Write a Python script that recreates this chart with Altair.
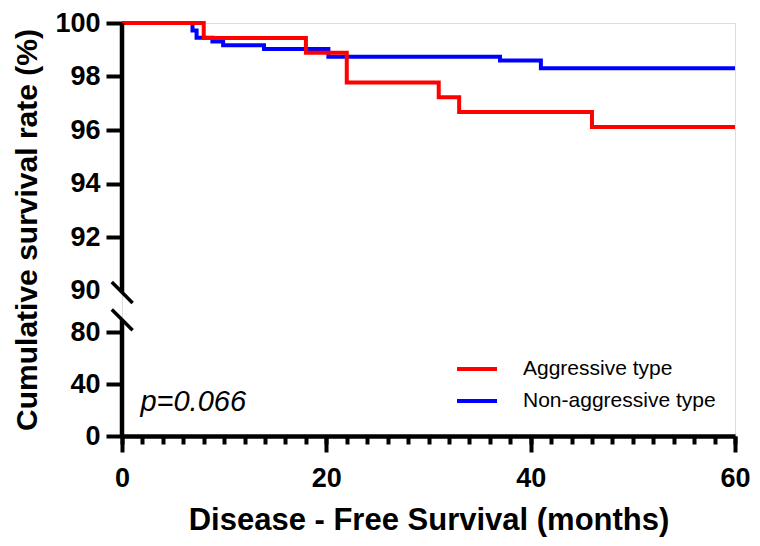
import altair as alt
import pandas as pd

# ---- data ----
series = ["Aggressive type", "Non-aggressive type"]
colors = ["#FF0000", "#0000FF"]

months_aggr = [0, 8, 18, 22, 31, 33, 46, 60]
surv_aggr = [100, 99.44, 98.89, 97.78, 97.22, 96.67, 96.11, 96.11]

months_non = [0, 6.9, 7.3, 8.85, 9.9, 13.9, 20.2, 37, 41, 60]
surv_non = [100, 99.72, 99.45, 99.31, 99.17, 99.03, 98.74, 98.6, 98.31, 98.31]

y_ticks = [0, 40, 80, 90, 92, 94, 96, 98, 100]
x_major = [0, 20, 40, 60]
x_minor = list(range(0, 61, 2))

p_text = ["p=0.066"]
p_pos_x = [1.8]
p_pos_y = [26]

# broken y axis: segments of the axis line and the two break slashes
axis_seg_lo = [89.6, 0]
axis_seg_hi = [100, 82.9]
slash_x1 = [-1.0, -1.0]
slash_x2 = [1.04, 1.04]
slash_y1 = [90.32, 85.45]
slash_y2 = [87.0, 80.5]

W, H = 613, 413
FONT = "Liberation Sans"

df_aggr = pd.DataFrame({"t": months_aggr, "s": surv_aggr, "g": series[0]})
df_non = pd.DataFrame({"t": months_non, "s": surv_non, "g": series[1]})
df_axis = pd.DataFrame({"x": [0, 0], "y": axis_seg_lo, "y2": axis_seg_hi})
df_slash = pd.DataFrame({"x": slash_x1, "x2": slash_x2, "y": slash_y1, "y2": slash_y2})
df_p = pd.DataFrame({"x": p_pos_x, "y": p_pos_y, "label": p_text})
df_minor = pd.DataFrame({"x": [0]})

x_scale = alt.Scale(domain=[0, 60], nice=False, zero=False)
y_scale = alt.Scale(domain=[0, 80, 90, 100], range=[H, 309.3, 267.5, 0], nice=False, zero=False)

y_axis = alt.Axis(
    values=y_ticks,
    title="Cumulative survival rate (%)",
    titleFont=FONT, titleFontSize=30, titleFontWeight="bold", titleColor="black",
    titlePadding=12,
    labelFont=FONT, labelFontSize=27, labelFontWeight="bold", labelColor="black",
    labelPadding=6, labelOverlap=False, labelFlush=False,
    domain=False, grid=False,
    tickSize=16, tickWidth=4, tickColor="black",
    tickOpacity={"condition": {"test": "datum.value == 90", "value": 0}, "value": 1},
)

x_axis_main = alt.Axis(
    values=x_major, orient="bottom",
    title="Disease - Free Survival (months)",
    titleFont=FONT, titleFontSize=31, titleFontWeight="bold", titleColor="black",
    titlePadding=14,
    labelFont=FONT, labelFontSize=27, labelFontWeight="bold", labelColor="black",
    labelPadding=13, labelOverlap=False, labelFlush=False,
    domain=True, domainColor="black", domainWidth=4.5,
    grid=False, tickSize=16, tickWidth=4, tickColor="black",
)

x_axis_minor = alt.Axis(
    values=x_minor, orient="bottom", title=None, labels=False,
    domain=False, grid=False, tickSize=8, tickWidth=4, tickColor="black",
)

color_scale = alt.Scale(domain=series, range=colors)
legend = alt.Legend(
    title=None, orient="none", legendX=333, legendY=324,
    symbolType="stroke", symbolSize=1600, symbolStrokeWidth=4,
    labelFont=FONT, labelFontSize=21, labelColor="black", labelOffset=24,
    labelLimit=0, rowPadding=0, padding=0,
)

line_non = alt.Chart(df_non).mark_line(interpolate="step-after", strokeWidth=4).encode(
    x=alt.X("t:Q", scale=x_scale, axis=x_axis_main),
    y=alt.Y("s:Q", scale=y_scale, axis=y_axis),
    color=alt.Color("g:N", scale=color_scale, legend=legend),
)
line_aggr = alt.Chart(df_aggr).mark_line(interpolate="step-after", strokeWidth=4).encode(
    x=alt.X("t:Q", scale=x_scale, axis=None),
    y=alt.Y("s:Q", scale=y_scale, axis=y_axis),
    color=alt.Color("g:N", scale=color_scale, legend=legend),
)
minor = alt.Chart(df_minor).mark_point(opacity=0).encode(
    x=alt.X("x:Q", scale=x_scale, axis=x_axis_minor),
)
axis_line = alt.Chart(df_axis).mark_rule(color="black", strokeWidth=4.5).encode(
    x=alt.X("x:Q", scale=x_scale, axis=None),
    y=alt.Y("y:Q", scale=y_scale, axis=y_axis),
    y2="y2:Q",
)
slashes = alt.Chart(df_slash).mark_rule(color="black", strokeWidth=3.5).encode(
    x=alt.X("x:Q", scale=x_scale, axis=None),
    x2="x2:Q",
    y=alt.Y("y:Q", scale=y_scale, axis=y_axis),
    y2="y2:Q",
)
ptxt = alt.Chart(df_p).mark_text(
    align="left", baseline="middle", font=FONT, fontSize=29, fontStyle="italic", color="black"
).encode(
    x=alt.X("x:Q", scale=x_scale, axis=None),
    y=alt.Y("y:Q", scale=y_scale, axis=y_axis),
    text="label:N",
)

chart = alt.layer(line_non, line_aggr, minor, axis_line, slashes, ptxt).resolve_axis(
    x="independent"
).properties(
    width=W, height=H,
    autosize=alt.AutoSizeParams(type="none"),
    padding={"left": 114, "top": 15, "right": 17, "bottom": 102},
).configure_view(strokeWidth=0, strokeOpacity=0).configure(background="white")

chart.save("out.html", embed_options={"renderer": "svg", "actions": False})
